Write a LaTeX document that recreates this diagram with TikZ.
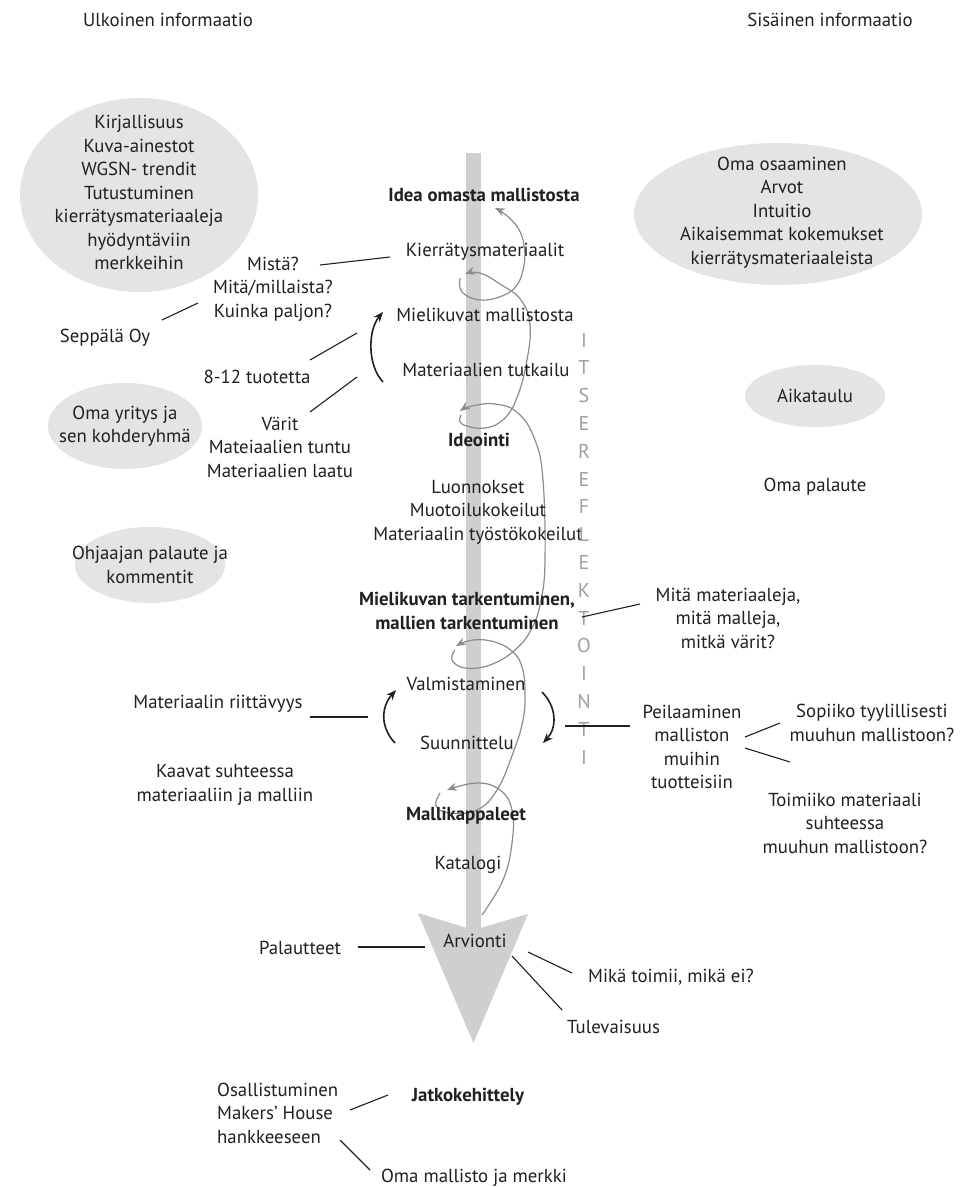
\documentclass[tikz,border=0pt]{standalone}
\usepackage{fontspec}
\setmainfont{PT Sans}
\usetikzlibrary{arrows.meta}
\definecolor{bargray}{HTML}{CFCFCF}
\definecolor{ellgray}{HTML}{E4E4E4}
\definecolor{loopgray}{HTML}{8C8C8C}
\definecolor{lettergray}{HTML}{A0A0A0}
\definecolor{ink}{HTML}{231F20}
\begin{document}
\begin{tikzpicture}[x=1pt,y=-1pt,
  txt/.style={font=\fontsize{18.8}{23.5}\selectfont, align=center, inner sep=0pt, text=ink},
  bld/.style={txt, font=\fontsize{18.8}{23.5}\selectfont\bfseries},
  conn/.style={draw=ink, line width=1.1pt},
  loopar/.style={draw=loopgray, line width=1.2pt, -{Stealth[length=10pt,width=8pt]}},
  cyc/.style={draw=ink, line width=1.6pt, -{Stealth[length=10pt,width=8pt]}},
  letter/.style={font=\fontsize{20}{20}\selectfont, text=lettergray, inner sep=0pt}
]
\useasboundingbox (0,0) rectangle (979,1187);
\fill[white] (0,0) rectangle (979,1187);

% ellipses
\fill[ellgray] (139,195) ellipse [x radius=119, y radius=97];
\fill[ellgray] (778,214) ellipse [x radius=144, y radius=71];
\fill[ellgray] (815,396) ellipse [x radius=70, y radius=31];
\fill[ellgray] (125,426) ellipse [x radius=77, y radius=43];
\fill[ellgray] (150,565) ellipse [x radius=75, y radius=38];

% central bar and arrowhead
\fill[bargray] (466,153) rectangle (481,935);
\fill[bargray] (418,913) -- (473.5,930) -- (528,914) -- (473.5,1043) -- cycle;

% spiral loop arrows
\draw[loopar] plot[smooth, tension=0.7] coordinates {(482,915) (503,880) (512,843) (512,810) (500,790) (477,783) (447,790)};
\draw[loopar] plot[smooth, tension=0.7] coordinates {(440,793) (436,806) (450,813) (477,810) (497,790) (513,753) (523,720) (525,690) (522,667) (513,652) (495,642) (473,640) (456,646)};
\draw[loopar] plot[smooth, tension=0.7] coordinates {(455,650) (452,660) (465,668) (490,665) (515,650) (532,628) (541,600) (545,560) (543,480) (535,440) (518,413) (495,404) (472,406) (460,411)};
\draw[loopar] plot[smooth, tension=0.7] coordinates {(461,415) (462,424) (485,428) (505,418) (518,395) (527,360) (530,325) (521,300) (500,284) (480,273) (465,274)};
\draw[loopar] plot[smooth, tension=0.7] coordinates {(460,278) (462,292) (480,300) (502,296) (517,285) (524,265) (524,245) (518,228) (506,215) (495,208)};

% black cycle arrows
\draw[cyc] (383,382) .. controls (367,365) and (368,330) .. (383,312);
\draw[cyc] (395,743) .. controls (380,727) and (381,707) .. (396,690);
\draw[cyc] (542,692) .. controls (557,707) and (557,728) .. (543,743);

% headers
\node[txt] (ulk) at (168,20) {Ulkoinen informaatio};
\node[txt] (sis) at (830,20) {Sisäinen informaatio};

% ellipse texts
\node[txt] (ext) at (139,192.5) {Kirjallisuus\\Kuva-ainestot\\WGSN- trendit\\Tutustuminen\\kierrätysmateriaaleja\\hyödyntäviin\\merkkeihin};
\node[txt] (int) at (782,212.5) {Oma osaaminen\\Arvot\\Intuitio\\Aikaisemmat kokemukset\\kierrätysmateriaaleista};
\node[txt] (aika) at (815,396) {Aikataulu};
\node[txt] (omapal) at (815,487) {Oma palaute};
\node[txt] (yritys) at (125,426) {Oma yritys ja\\sen kohderyhmä};
\node[txt] (ohj) at (150,565) {Ohjaajan palaute ja\\kommentit};

% central column
\node[bld] (idea) at (484,195) {Idea omasta mallistosta};
\node[txt] (kierr) at (485,252) {Kierrätysmateriaalit};
\node[txt] (mieli) at (485,315) {Mielikuvat mallistosta};
\node[txt] (mattut) at (486,370) {Materiaalien tutkailu};
\node[bld] (ideo) at (479,440) {Ideointi};
\node[txt] (luon) at (478,512) {Luonnokset\\Muotoilukokeilut\\Materiaalin työstökokeilut};
\node[bld] (tark) at (467,611) {Mielikuvan tarkentuminen,\\mallien tarkentuminen};
\node[txt] (valm) at (466,684) {Valmistaminen};
\node[txt] (suun) at (467,743) {Suunnittelu};
\node[bld] (malli) at (466,816) {Mallikappaleet};
\node[txt] (kata) at (468,865) {Katalogi};
\node[txt] (arv) at (475,941) {Arvionti};
\node[bld] (jatko) at (468,1097) {Jatkokehittely};
\node[txt] (omamal) at (474,1178) {Oma mallisto ja merkki};

% left side
\node[txt] (mista) at (273,289) {Mistä?\\Mitä/millaista?\\Kuinka paljon?};
\node[txt] (sepp) at (105,338) {Seppälä Oy};
\node[txt] (tuot) at (257,377) {8-12 tuotetta};
\node[txt] (varit) at (280,447) {Värit\\Mateiaalien tuntu\\Materiaalien laatu};
\node[txt] (riitt) at (218,704) {Materiaalin riittävyys};
\node[txt] (kaavat) at (225,785) {Kaavat suhteessa\\materiaaliin ja malliin};
\node[txt] (palaut) at (300,948) {Palautteet};
\node[txt, align=left, anchor=west] (osall) at (217,1113) {Osallistuminen\\Makers’ House\\hankkeeseen};

% right side
\node[txt] (mitamat) at (728,618) {Mitä materiaaleja,\\mitä malleja,\\mitkä värit?};
\node[txt] (peil) at (692,747) {Peilaaminen\\malliston\\muihin\\tuotteisiin};
\node[txt] (sopii) at (872,723) {Sopiiko tyylillisesti\\muuhun mallistoon?};
\node[txt] (toimii) at (845,823) {Toimiiko materiaali\\suhteessa\\muuhun mallistoon?};
\node[txt, anchor=west] (mika) at (588,977) {Mikä toimii, mikä ei?};
\node[txt, anchor=west] (tulev) at (567,1027) {Tulevaisuus};

% vertical word
\foreach \ch [count=\i from 0] in {I,T,S,E,R,E,F,L,E,K,T,O,I,N,T,I} {
  \node[letter] (it\i) at (584,{340+27.8*\i}) {\ch};
}

% connector end points
\coordinate (c1a) at (320,265); \coordinate (c1b) at (390,257);
\coordinate (c2a) at (162,320); \coordinate (c2b) at (198,303);
\coordinate (c3a) at (310,360); \coordinate (c3b) at (357,333);
\coordinate (c4a) at (310,412); \coordinate (c4b) at (357,377);
\coordinate (c5a) at (582,617); \coordinate (c5b) at (640,604);
\coordinate (c6a) at (310,717); \coordinate (c6b) at (368,717);
\coordinate (c7a) at (565,726); \coordinate (c7b) at (630,726);
\coordinate (c8a) at (745,737); \coordinate (c8b) at (780,723);
\coordinate (c9a) at (745,748); \coordinate (c9b) at (790,762);
\coordinate (c10a) at (358,947); \coordinate (c10b) at (425,947);
\coordinate (c11a) at (528,952); \coordinate (c11b) at (572,973);
\coordinate (c12a) at (512,956); \coordinate (c12b) at (562,1010);
\coordinate (c13a) at (350,1110); \coordinate (c13b) at (388,1095);
\coordinate (c14a) at (340,1140); \coordinate (c14b) at (370,1170);
\foreach \k in {1,...,14} { \draw[conn] (c\k a) -- (c\k b); }
\end{tikzpicture}
\end{document}
